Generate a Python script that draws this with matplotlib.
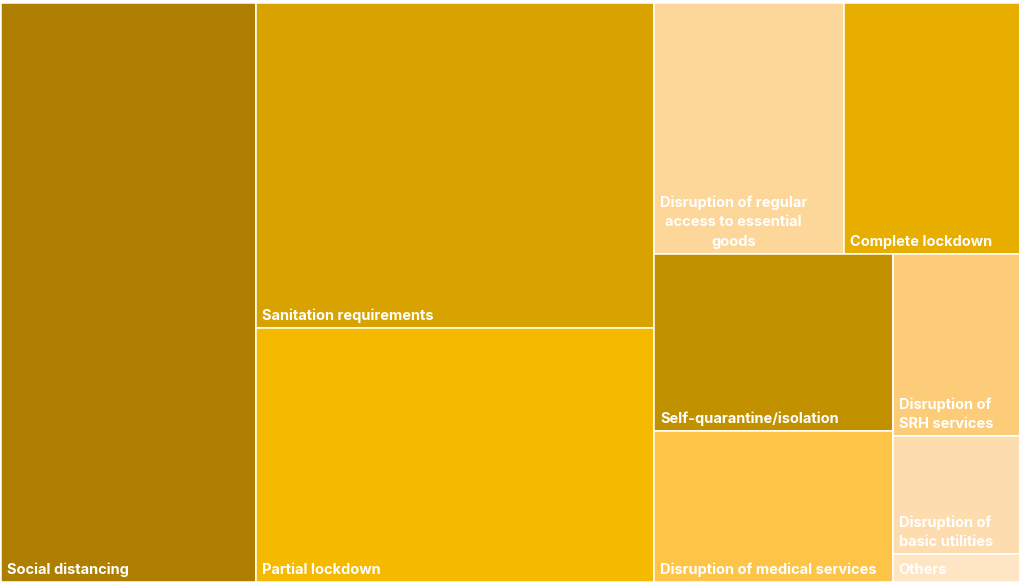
import matplotlib
matplotlib.use("Agg")
import matplotlib.pyplot as plt
from matplotlib.patches import Rectangle

# Share of responses per reported impact (%)
labels = [
    "Social distancing",
    "Sanitation requirements",
    "Partial lockdown",
    "Disruption of regular\naccess to essential\ngoods",
    "Complete lockdown",
    "Self-quarantine/isolation",
    "Disruption of medical services",
    "Disruption of\nSRH services",
    "Disruption of\nbasic utilities",
    "Others",
]
values = [25.0, 22.0, 17.2, 8.1, 7.5, 7.2, 6.1, 3.95, 2.55, 0.6]
groups = [0, 1, 1, 2, 2, 2, 2, 2, 2, 2]
colors = [
    "#AE7E00", "#D8A200", "#F5B900", "#FDD69A", "#E7AE00",
    "#C29100", "#FDC447", "#FDCC78", "#FDDDB0", "#FEE5C4",
]
centered = [False, False, False, True, False, False, False, False, False, False]


def squarify(vals, x0, y0, x1, y1, ratio=1.0):
    """Squarified treemap tiling; returns (x, y, w, h) for each value."""
    rects = [None] * len(vals)
    total = float(sum(vals))
    n = len(vals)
    i0 = 0
    while i0 < n:
        dx, dy = x1 - x0, y1 - y0
        i1 = i0
        s = vals[i1]
        i1 += 1
        mn = mx = s
        alpha = max(dy / dx, dx / dy) / (total * ratio)
        beta = s * s * alpha
        best = max(mx / beta, beta / mn)
        while i1 < n:
            v = vals[i1]
            s2 = s + v
            mn2, mx2 = min(mn, v), max(mx, v)
            beta = s2 * s2 * alpha
            r = max(mx2 / beta, beta / mn2)
            if r > best:
                break
            s, mn, mx, best = s2, mn2, mx2, r
            i1 += 1
        if dx < dy:
            h = dy * s / total
            x = x0
            for i in range(i0, i1):
                w = dx * vals[i] / s
                rects[i] = (x, y0, w, h)
                x += w
            y0 += h
        else:
            w = dx * s / total
            y = y0
            for i in range(i0, i1):
                h = dy * vals[i] / s
                rects[i] = (x0, y, w, h)
                y += h
            x0 += w
        total -= s
        i0 = i1
    return rects


W, H = 1020, 582
fig = plt.figure(figsize=(W / 100, H / 100), dpi=100)
ax = fig.add_axes([0, 0, 1, 1])
ax.set_xlim(0, W)
ax.set_ylim(H, 0)
ax.axis("off")

# First level: groups, second level: items inside each group
group_ids = sorted(set(groups))
members = [[i for i, g in enumerate(groups) if g == gid] for gid in group_ids]
group_vals = [sum(values[i] for i in m) for m in members]
group_rects = squarify(group_vals, 1.5, 2.5, 1020.0, 582.0)

item_rects = [None] * len(values)
for m, (gx, gy, gw, gh) in zip(members, group_rects):
    sub = squarify([values[i] for i in m], gx, gy, gx + gw, gy + gh)
    for i, r in zip(m, sub):
        item_rects[i] = r

for i, (x, y, w, h) in enumerate(item_rects):
    ax.add_patch(Rectangle((x, y), w, h, facecolor=colors[i],
                           edgecolor="white", linewidth=1.1))
    ax.text(x + 6, y + h - 5.0, labels[i], color="white", fontsize=10.5,
            fontweight="bold", family=["Inter", "DejaVu Sans"],
            ha="left", va="bottom", linespacing=1.5,
            multialignment="center" if centered[i] else "left")

fig.savefig("out.png", dpi=100)
